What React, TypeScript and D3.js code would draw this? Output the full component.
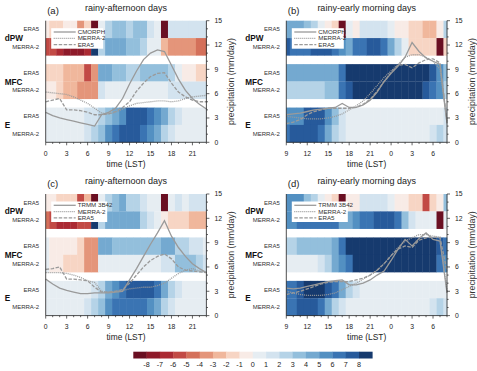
import React from 'react';
import * as d3 from 'd3';

// colour classes of the shared colour bar (18 boxes, bounds -8..8)
const colorBounds = [-8, -7, -6, -5, -4, -3, -2, -1, 0, 1, 2, 3, 4, 5, 6, 7, 8];
const colorList = [
  '#6a0f22', '#8e1a2a', '#ab2a33', '#c24a45', '#d4705a', '#e4957a', '#f0b79c', '#f7d5c4', '#f8ebe6',
  '#e6edf2', '#d3e3ef', '#b5d3e7', '#93bfdc', '#74a9d0', '#5390c2', '#3a74b3', '#275a9b', '#163a6e',
];

const hoursA = d3.range(0, 24);
const hoursB = d3.range(9, 33);

// (a) rainy-afternoon days, CMORPH
const dpwEra5A = [-0.5, -1.5, -1.5, -0.5, -0.5, -3.5, -1.5, -9, 0.5, 2.5, 3.5, 3.5, 2.5, 3.5, 3.5, 1.5, 0.5, -9, 1.5, 1.5, 1.5, 1.5, 1.5, 1.5];
const dpwMerraA = [-5.5, -5.5, -6.5, -7.5, -7.5, -7.5, -6.5, 9, 2.5, 4.5, 4.5, 4.5, 3.5, 3.5, 2.5, 0.5, 0.5, -2.5, -3.5, -3.5, -3.5, -3.5, -4.5, -4.5];
const mfcEra5A = [-1.5, -1.5, -1.5, -2.5, -2.5, -2.5, -5.5, -3.5, 4.5, 4.5, 3.5, 3.5, 2.5, 2.5, 3.5, 3.5, 3.5, 3.5, 2.5, 0.5, -0.5, -0.5, -1.5, -1.5];
const mfcMerraA = [-0.5, -0.5, -1.5, -2.5, -2.5, -3.5, -3.5, -3.5, 1.5, 0.5, 0.5, 0.5, 0.5, 0.5, 0.5, 0.5, 0.5, 0.5, 1.5, 1.5, 1.5, 1.5, 1.5, 1.5];
const eEra5A = [0.5, 0.5, 0.5, 0.5, 0.5, 0.5, 1.5, 1.5, 2.5, 3.5, 4.5, 5.5, 7.5, 7.5, 7.5, 6.5, 5.5, 4.5, 2.5, 1.5, 0.5, 0.5, 0.5, 0.5];
const eMerraA = [0.5, 0.5, 0.5, 0.5, 0.5, 0.5, 1.5, 2.5, 3.5, 5.5, 6.5, 7.5, 7.5, 7.5, 6.5, 5.5, 4.5, 2.5, 1.5, 0.5, 0.5, 0.5, 0.5, 0.5];
const obsPrA = [3.7, 3.3, 3.0, 2.8, 2.6, 2.4, 2.2, 2.0, 3.4, 3.7, 4.2, 5.4, 7.2, 8.8, 10.2, 11.0, 11.4, 11.2, 9.5, 7.8, 6.4, 5.4, 4.7, 4.1];
const merraPrA = [6.2, 6.1, 6.0, 5.9, 5.6, 5.2, 4.8, 4.2, 3.6, 3.5, 3.7, 4.1, 4.5, 4.8, 4.9, 5.0, 5.1, 5.1, 5.0, 5.1, 5.4, 5.6, 5.7, 5.8];
const era5PrA = [5.0, 5.2, 5.4, 4.0, 4.0, 3.9, 3.7, 3.4, 3.4, 3.5, 3.8, 4.3, 5.0, 6.3, 7.3, 8.1, 8.5, 8.6, 7.3, 6.2, 5.6, 5.2, 5.0, 5.0];

// (b) rainy-early morning days, CMORPH
const dpwEra5B = [4.5, 4.5, 4.5, 3.5, 2.5, 0.5, -0.5, -1.5, -9, 0.5, -0.5, 1.5, 1.5, 1.5, 1.5, 0.5, -0.5, -0.5, -1.5, -1.5, -2.5, -2.5, -0.5, 2.5];
const dpwMerraB = [7.5, 6.5, 6.5, 6.5, 7.5, 7.5, 7.5, 6.5, 5.5, 4.5, 6.5, 6.5, 7.5, 7.5, 6.5, 4.5, 2.5, 0.5, -1.5, -1.5, -1.5, -1.5, -9, -1.5];
const mfcEra5B = [4.5, 4.5, 4.5, 4.5, 4.5, 4.5, 4.5, 4.5, 6.5, 9, 9, 9, 9, 9, 9, 9, 9, 9, 9, 9, 9, 7.5, 5.5, 3.5];
const mfcMerraB = [2.5, 2.5, 2.5, 2.5, 2.5, 2.5, 3.5, 3.5, 6.5, 7.5, 9, 9, 9, 9, 9, 9, 9, 9, 9, 9, 7.5, 6.5, 5.5, 2.5];
const eEra5B = [5.5, 5.5, 5.5, 7.5, 7.5, 7.5, 5.5, 3.5, 1.5, 0.5, 0.5, 0.5, 0.5, 0.5, 0.5, 0.5, 0.5, 0.5, 0.5, 0.5, 0.5, 0.5, 0.5, 1.5];
const eMerraB = [6.5, 7.5, 7.5, 7.5, 7.5, 6.5, 4.5, 2.5, 1.5, 0.5, 0.5, 0.5, 0.5, 0.5, 0.5, 0.5, 0.5, 0.5, 0.5, 0.5, 0.5, 1.5, 2.5, 1.5];
const obsPrB = [3.4, 3.5, 3.6, 3.8, 4.0, 4.1, 4.2, 4.3, 4.8, 4.3, 4.3, 4.6, 5.2, 6.2, 7.5, 8.5, 9.4, 10.5, 12.3, 11.2, 10.4, 10.0, 9.6, 2.4];
const merraPrB = [3.2, 3.1, 3.0, 2.9, 2.9, 2.9, 3.0, 3.2, 3.5, 4.0, 4.5, 5.1, 6.0, 7.0, 8.0, 8.8, 9.6, 10.5, 10.8, 10.8, 10.5, 10.0, 9.0, 2.3];
const era5PrB = [2.3, 2.5, 2.8, 3.4, 3.8, 4.0, 4.2, 4.2, 4.2, 4.2, 4.3, 4.7, 5.3, 6.3, 7.5, 8.6, 9.5, 9.6, 9.2, 9.8, 10.2, 10.3, 9.8, 2.5];

// (c) rainy-afternoon days, TRMM 3B42
const dpwEra5C = [-0.5, -0.5, -1.5, -1.5, -1.5, -5.5, -2.5, -9, 0.5, 2.5, 3.5, 4.5, 2.5, 2.5, 1.5, 0.5, 0.5, -9, 0.5, 1.5, 0.5, 1.5, 1.5, 1.5];
const dpwMerraC = [-4.5, -5.5, -6.5, -6.5, -6.5, -5.5, -5.5, 9, 2.5, 4.5, 4.5, 4.5, 4.5, 4.5, 2.5, 1.5, 0.5, -0.5, -1.5, -1.5, -1.5, -2.5, -2.5, -2.5];
const mfcEra5C = [0.5, -0.5, -0.5, -0.5, -0.5, -1.5, -3.5, -3.5, 4.5, 4.5, 3.5, 3.5, 3.5, 3.5, 3.5, 3.5, 3.5, 4.5, 4.5, 2.5, 2.5, 1.5, 1.5, 0.5];
const mfcMerraC = [0.5, -0.5, -0.5, -1.5, -1.5, -1.5, -3.5, -3.5, 0.5, 0.5, 0.5, 0.5, 0.5, 0.5, 0.5, 0.5, 0.5, 1.5, 1.5, 3.5, 3.5, 3.5, 2.5, 1.5];
const eEra5C = [0.5, 0.5, 0.5, 0.5, 0.5, 0.5, 0.5, 1.5, 2.5, 4.5, 5.5, 6.5, 7.5, 7.5, 7.5, 7.5, 6.5, 4.5, 2.5, 1.5, 0.5, 0.5, 0.5, 0.5];
const eMerraC = [0.5, 0.5, 0.5, 0.5, 0.5, 0.5, 1.5, 2.5, 3.5, 5.5, 6.5, 6.5, 6.5, 6.5, 6.5, 5.5, 4.5, 2.5, 1.5, 0.5, 0.5, 0.5, 0.5, 0.5];
const obsPrC = [4.5, 3.9, 3.4, 3.1, 2.9, 2.7, 2.7, 2.8, 2.8, 2.8, 2.9, 3.0, 4.4, 5.8, 7.3, 8.8, 10.2, 11.7, 9.8, 8.4, 7.3, 6.4, 5.8, 5.3];
const merraPrC = [5.3, 5.3, 5.3, 5.2, 5.0, 4.7, 4.3, 4.1, 3.0, 2.9, 3.0, 3.1, 3.3, 3.4, 3.5, 3.5, 3.7, 4.0, 4.6, 5.2, 5.6, 5.8, 5.5, 5.3];
const era5PrC = [5.7, 5.8, 6.0, 4.5, 4.5, 4.4, 4.3, 3.5, 2.9, 2.9, 3.0, 3.2, 4.0, 5.0, 6.0, 6.8, 7.3, 7.6, 7.0, 6.0, 5.6, 5.5, 5.4, 5.3];

// (d) rainy-early morning days, TRMM 3B42
const dpwEra5D = [5.5, 5.5, 5.5, 3.5, 2.5, 0.5, -0.5, -1.5, -9, -0.5, -0.5, 1.5, 1.5, 1.5, 1.5, 0.5, -0.5, -0.5, -1.5, -1.5, -5.5, -1.5, -0.5, 3.5];
const dpwMerraD = [5.5, 5.5, 6.5, 6.5, 6.5, 6.5, 6.5, 6.5, 4.5, 4.5, 5.5, 6.5, 6.5, 7.5, 7.5, 7.5, 6.5, 3.5, 1.5, 0.5, 0.5, 0.5, -9, 0.5];
const mfcEra5D = [2.5, 2.5, 3.5, 3.5, 3.5, 3.5, 3.5, 4.5, 6.5, 9, 9, 9, 9, 9, 9, 9, 9, 9, 9, 9, 9, 9, 7.5, 6.5];
const mfcMerraD = [0.5, 0.5, 0.5, 0.5, 0.5, 1.5, 2.5, 4.5, 5.5, 6.5, 9, 9, 9, 9, 9, 9, 9, 9, 9, 9, 9, 9, 6.5, 5.5];
const eEra5D = [6.5, 6.5, 7.5, 9, 9, 9, 7.5, 6.5, 4.5, 2.5, 1.5, 0.5, 0.5, 0.5, 0.5, 0.5, 0.5, 0.5, 0.5, 0.5, 0.5, 0.5, 0.5, 0.5];
const eMerraD = [6.5, 6.5, 7.5, 7.5, 7.5, 6.5, 4.5, 2.5, 1.5, 0.5, 0.5, 0.5, 0.5, 0.5, 0.5, 0.5, 0.5, 0.5, 0.5, 0.5, 0.5, 1.5, 2.5, 1.5];
const obsPrD = [3.4, 3.3, 3.4, 3.6, 3.8, 4.0, 4.2, 4.3, 4.4, 3.8, 3.8, 4.0, 4.4, 5.0, 5.5, 6.8, 8.2, 9.4, 8.6, 9.5, 10.2, 9.4, 9.2, 2.8];
const merraPrD = [3.0, 2.8, 2.6, 2.5, 2.5, 2.5, 2.6, 2.8, 3.2, 3.6, 4.0, 4.5, 5.0, 5.6, 6.4, 7.4, 8.4, 9.2, 9.6, 10.0, 10.0, 9.8, 9.7, 3.0];
const era5PrD = [2.6, 2.8, 3.0, 3.3, 3.6, 3.9, 4.1, 4.2, 4.2, 4.2, 4.4, 4.6, 5.0, 5.6, 6.4, 7.4, 8.2, 8.6, 8.4, 9.3, 9.6, 9.7, 9.6, 5.5];

const groups = ['dPW', 'MFC', 'E'];
const datasets = ['ERA5', 'MERRA-2'];
const precipTicks = [0, 3, 6, 9, 12, 15];

const FONT = 'Liberation Sans, Arial, Helvetica, sans-serif';
const W = 160.7;
const H = 121.6;

const color = d3.scaleThreshold<number, string>().domain(colorBounds).range(colorList);

type PanelProps = {
  tag: string;
  title: string;
  obsName: string;
  left: number;
  top: number;
  hours: number[];
  rows: number[][];
  obs: number[];
  merra: number[];
  era5: number[];
};

const Panel: React.FC<PanelProps> = ({ tag, title, obsName, left, top, hours, rows, obs, merra, era5 }) => {
  const h0 = hours[0];
  const h1 = hours[hours.length - 1];
  const x = d3.scaleLinear().domain([h0, h1]).range([left, left + W]);
  // 7 row units: 2 rows per group, half-row white gap between groups
  const rowY = d3.scaleLinear().domain([0, 7]).range([top, top + H]);
  const rowStart = [0, 1, 2.5, 3.5, 5, 6];
  const yP = d3.scaleLinear().domain([0, 15]).range([top + H, top]);
  const line = d3.line<number>().x((_, i) => x(hours[i])).y((v) => yP(v));
  const bottom = top + H;
  const right = left + W;

  const legendItems = [
    { name: obsName, vals: obs, dash: 'none' },
    { name: 'MERRA-2', vals: merra, dash: '1,1' },
    { name: 'ERA5', vals: era5, dash: '3.5,1.5' },
  ];

  return (
    <g>
      {rows.map((row, r) =>
        row.map((v, i) => {
          const hx = hours[i];
          const xa = x(Math.max(hx - 0.5, h0));
          const xb = x(Math.min(hx + 0.5, h1));
          return (
            <rect key={`${r}-${i}`} x={xa} y={rowY(rowStart[r])} width={xb - xa + 0.3}
              height={rowY(rowStart[r] + 1) - rowY(rowStart[r]) + 0.2} fill={color(v)} />
          );
        })
      )}
      {legendItems.map((it) => (
        <path key={it.name} d={line(it.vals) || ''} fill="none" stroke="#9a9a9a" strokeWidth={1.3}
          strokeDasharray={it.dash} />
      ))}
      {/* legend */}
      <rect x={left + 5.5} y={top + 7.5} width={obsName.length > 6 ? 56 : 52} height={20.5} fill="#fff" />
      {legendItems.map((it, k) => {
        const ly = top + 11.3 + k * 6.3;
        return (
          <g key={`lg-${it.name}`}>
            <line x1={left + 8} x2={left + 30} y1={ly} y2={ly} stroke="#9a9a9a" strokeWidth={1.3}
              strokeDasharray={it.dash} />
            <text x={left + 32} y={ly + 2} fontSize={6.2} fontFamily={FONT} fill="#333">{it.name}</text>
          </g>
        );
      })}
      {/* axes */}
      <line x1={left} x2={left} y1={top} y2={bottom} stroke="#222" strokeWidth={0.8} />
      <line x1={left} x2={right} y1={bottom} y2={bottom} stroke="#222" strokeWidth={0.8} />
      <line x1={right} x2={right} y1={top} y2={bottom} stroke="#222" strokeWidth={0.8} />
      {hours.map((hx) => {
        const major = (hx - h0) % 3 === 0;
        return (
          <g key={`xt-${hx}`}>
            <line x1={x(hx)} x2={x(hx)} y1={bottom} y2={bottom + (major ? 3 : 1.6)} stroke="#222" strokeWidth={0.7} />
            {major && (
              <text x={x(hx)} y={bottom + 13.5} fontSize={6.8} fontFamily={FONT} textAnchor="middle" fill="#222">
                {hx % 24}
              </text>
            )}
          </g>
        );
      })}
      {d3.range(0, 16).map((p) => {
        const major = p % 3 === 0;
        return (
          <g key={`yt-${p}`}>
            <line x1={right} x2={right + (major ? 3 : 1.6)} y1={yP(p)} y2={yP(p)} stroke="#222" strokeWidth={0.7} />
            {major && precipTicks.includes(p) && (
              <text x={right + 8} y={yP(p) + 2.4} fontSize={6.8} fontFamily={FONT} fill="#222">{p}</text>
            )}
          </g>
        );
      })}
      <text transform={`translate(${right + 28},${top + H / 2}) rotate(-90)`} fontSize={8.8} fontFamily={FONT}
        textAnchor="middle" fill="#333">precipitation (mm/day)</text>
      <text x={left + W / 2} y={bottom + 24.5} fontSize={8.4} fontFamily={FONT} textAnchor="middle" fill="#222">
        time (LST)
      </text>
      {/* row and group labels */}
      {groups.map((g, gi) => (
        <g key={g}>
          <text x={left - 41} y={rowY(rowStart[gi * 2] + 1) + 3} fontSize={8.2} fontWeight="bold" fontFamily={FONT}
            fill="#111">{g}</text>
          {datasets.map((ds, di) => (
            <text key={ds} x={left - 6.5} y={rowY(rowStart[gi * 2 + di] + 0.5) + 2.1} fontSize={6} fontFamily={FONT}
              textAnchor="end" fill="#333">{ds}</text>
          ))}
        </g>
      ))}
      <text x={left + 1.5} y={top - 7} fontSize={9.5} fontFamily={FONT} fill="#222">({tag})</text>
      <text x={left + W / 2} y={top - 10} fontSize={9} fontFamily={FONT} textAnchor="middle" fill="#222">{title}</text>
    </g>
  );
};

const ColorBar: React.FC = () => {
  const cx = d3.scaleLinear().domain([-9, 9]).range([133.3, 372.3]);
  return (
    <g>
      {colorList.map((c, i) => (
        <rect key={c} x={cx(-9 + i)} y={351.7} width={cx(-8 + i) - cx(-9 + i) + 0.3} height={6.8} fill={c} />
      ))}
      {colorBounds.map((b) => (
        <text key={b} x={cx(b)} y={366.5} fontSize={7.2} fontFamily={FONT} textAnchor="middle" fill="#222">{b}</text>
      ))}
    </g>
  );
};

const App: React.FC = () => {
  return (
    <svg width={477} height={371} style={{ position: 'absolute', left: 0, top: 0, background: '#fff' }}>
      <Panel tag="a" title="rainy-afternoon days" obsName="CMORPH" left={45.7} top={20.7} hours={hoursA}
        rows={[dpwEra5A, dpwMerraA, mfcEra5A, mfcMerraA, eEra5A, eMerraA]} obs={obsPrA} merra={merraPrA} era5={era5PrA} />
      <Panel tag="b" title="rainy-early morning days" obsName="CMORPH" left={286.3} top={20.7} hours={hoursB}
        rows={[dpwEra5B, dpwMerraB, mfcEra5B, mfcMerraB, eEra5B, eMerraB]} obs={obsPrB} merra={merraPrB} era5={era5PrB} />
      <Panel tag="c" title="rainy-afternoon days" obsName="TRMM 3B42" left={45.7} top={194} hours={hoursA}
        rows={[dpwEra5C, dpwMerraC, mfcEra5C, mfcMerraC, eEra5C, eMerraC]} obs={obsPrC} merra={merraPrC} era5={era5PrC} />
      <Panel tag="d" title="rainy-early morning days" obsName="TRMM 3B42" left={286.3} top={194} hours={hoursB}
        rows={[dpwEra5D, dpwMerraD, mfcEra5D, mfcMerraD, eEra5D, eMerraD]} obs={obsPrD} merra={merraPrD} era5={era5PrD} />
      <ColorBar />
    </svg>
  );
};

export default App;
